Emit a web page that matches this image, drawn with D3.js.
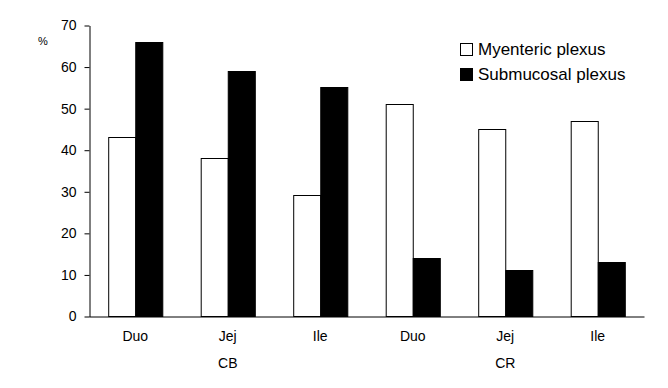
<!DOCTYPE html>
<html>
<head>
<meta charset="utf-8">
<script src="https://cdn.jsdelivr.net/npm/d3@7"></script>
<style>
  html, body { margin: 0; padding: 0; background: #fff; }
  svg { display: block; }
</style>
</head>
<body>
<svg id="chart"></svg>
<script>
// data
const groups = ["CB", "CR"];
const segments = ["Duo", "Jej", "Ile"];
const seriesNames = ["Myenteric plexus", "Submucosal plexus"];
const myenteric = [43, 38, 29, 51, 45, 47];
const submucosal = [66, 59, 55, 14, 11, 13];
const yTicks = [0, 10, 20, 30, 40, 50, 60, 70];

const width = 668, height = 388;
const margin = {top: 25, right: 24, bottom: 72, left: 89};
const fills = ["#fff", "#000"];
const font = "'Liberation Sans', Arial, sans-serif";

// one row per bar pair
const rows = [];
groups.forEach((g, gi) => segments.forEach((s, si) => {
    const i = gi * segments.length + si;
    rows.push({key: g + "-" + s, group: g, seg: s, values: [myenteric[i], submucosal[i]]});
}));

const svg = d3.select("#chart")
    .attr("width", width)
    .attr("height", height)
    .attr("font-family", font);

const x0 = d3.scaleBand()
    .domain(rows.map(d => d.key))
    .range([margin.left, width - margin.right]);

const x1 = d3.scaleBand()
    .domain(d3.range(seriesNames.length))
    .range([0, x0.bandwidth()])
    .paddingOuter(0.71);

const y = d3.scaleLinear()
    .domain([0, 70])
    .range([height - margin.bottom, margin.top]);

// bars
svg.append("g")
    .selectAll("g")
    .data(rows)
    .join("g")
    .attr("transform", d => `translate(${x0(d.key)},0)`)
    .selectAll("rect")
    .data(d => d.values.map((v, k) => ({k, v})))
    .join("rect")
    .attr("x", d => x1(d.k) + 0.5)
    .attr("y", d => Math.round(y(d.v)) + 0.5)
    .attr("width", x1.bandwidth())
    .attr("height", d => Math.round(y(0)) - Math.round(y(d.v)))
    .attr("fill", d => fills[d.k])
    .attr("stroke", "#000")
    .attr("stroke-width", 1);

// y axis
const yAxis = svg.append("g")
    .attr("transform", `translate(${margin.left + 0.5},0.5)`)
    .call(d3.axisLeft(y).tickValues(yTicks).tickSize(5).tickPadding(8).tickSizeOuter(0));
yAxis.select(".domain").attr("stroke", "#000");
yAxis.selectAll(".tick line").attr("stroke", "#000");
yAxis.selectAll("text").attr("font-size", 14).attr("font-family", font).attr("fill", "#000");

// x axis: baseline only, labels below
const xAxis = svg.append("g")
    .attr("transform", `translate(0,${Math.round(y(0)) + 0.5})`)
    .call(d3.axisBottom(x0).tickSize(0).tickPadding(15).tickFormat(k => k.split("-")[1]));
xAxis.select(".domain").attr("stroke", "#000");
xAxis.selectAll("text").attr("font-size", 14).attr("font-family", font).attr("fill", "#000");

// group labels under the middle segment
svg.append("g")
    .selectAll("text")
    .data(groups)
    .join("text")
    .attr("x", g => x0(g + "-" + segments[1]) + x0.bandwidth() / 2)
    .attr("y", 368)
    .attr("text-anchor", "middle")
    .attr("font-size", 14)
    .attr("fill", "#000")
    .text(g => g);

// y unit
svg.append("text")
    .attr("x", 43)
    .attr("y", 45)
    .attr("text-anchor", "middle")
    .attr("font-size", 11)
    .attr("fill", "#000")
    .text("%");

// legend
const legend = svg.append("g")
    .attr("transform", "translate(460,43)")
    .selectAll("g")
    .data(seriesNames)
    .join("g")
    .attr("transform", (d, i) => `translate(0,${i * 25})`);

legend.append("rect")
    .attr("x", 0.5)
    .attr("y", 0.5)
    .attr("width", 12)
    .attr("height", 12)
    .attr("fill", (d, i) => fills[i])
    .attr("stroke", "#000");

legend.append("text")
    .attr("x", 18)
    .attr("y", 12)
    .attr("font-size", 17)
    .attr("fill", "#000")
    .text(d => d);
</script>
</body>
</html>
